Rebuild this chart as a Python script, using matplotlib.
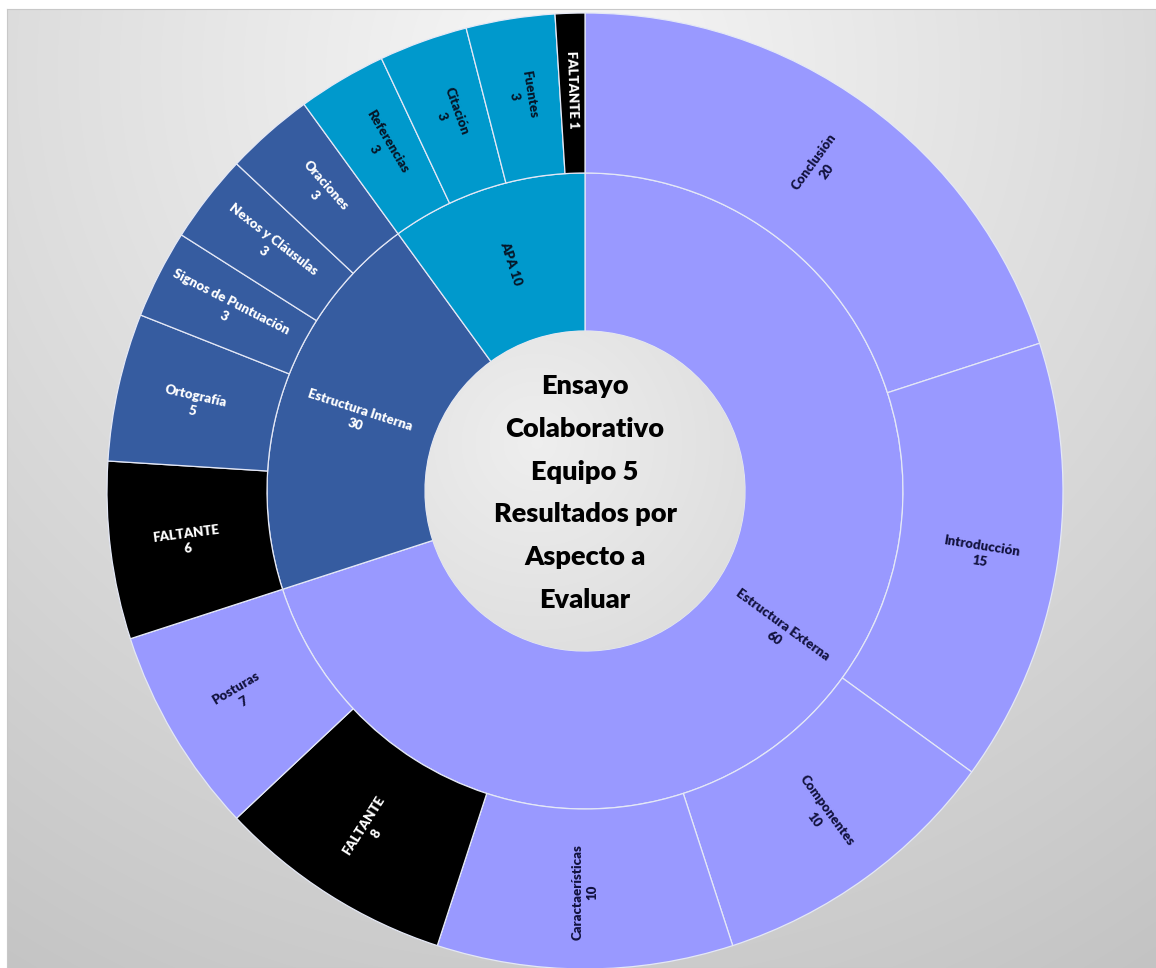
import numpy as np
import matplotlib
matplotlib.use("Agg")
from matplotlib import pyplot as plt
from matplotlib.patches import Wedge, Circle

# niveles del sunburst
grupos = ['Estructura Externa', 'Estructura Interna', 'APA']
puntaje_grupo = [60, 30, 10]
colores_grupo = ['#9999FF', '#365CA0', '#0099CC']
texto_grupo = ['#12123e', 'white', '#061628']

aspectos = ['Conclusión', 'Introducción', 'Componentes', 'Caractaerísticas',
            'FALTANTE', 'Posturas',
            'FALTANTE', 'Ortografía', 'Signos de Puntuación', 'Nexos y Cláusulas',
            'Oraciones',
            'Referencias', 'Citación', 'Fuentes', 'FALTANTE']
puntos = [20, 15, 10, 10, 8, 7,
          6, 5, 3, 3, 3,
          3, 3, 3, 1]
grupo_de = [0, 0, 0, 0, 0, 0,
            1, 1, 1, 1, 1,
            2, 2, 2, 2]

W, H = 1156, 968
cx, cy = 585, H - 491
r_ext, r_med, r_int = 478, 318, 160

fig = plt.figure(figsize=(W / 100, H / 100), dpi=100)
fig.patch.set_facecolor('white')

# fondo con degradado gris
bg = fig.add_axes([7 / W, 0, 1 - 7 / W, 959 / H])
yy, xx = np.mgrid[0:959, 7:W]
d = np.hypot(xx - 560, yy - 60)
val = np.clip(0.97 - 0.19 * d / 1000, 0, 1)
bg.imshow(np.dstack([val, val, val]), aspect='auto', extent=(0, 1, 0, 1))
bg.set_xticks([])
bg.set_yticks([])
for s in bg.spines.values():
    s.set_color('#c8c8c8')
    s.set_linewidth(0.8)

ax = fig.add_axes([0, 0, 1, 1])
ax.set_xlim(0, W)
ax.set_ylim(0, H)
ax.axis('off')
ax.patch.set_visible(False)


def rot_lectura(a):
    r = 90 - a
    while r <= -90:
        r += 180
    while r > 90:
        r -= 180
    return r


def etiqueta(a, radio, txt, color, size=9.5):
    phi = np.radians(90 - a)
    ax.text(cx + radio * np.cos(phi), cy + radio * np.sin(phi), txt,
            rotation=rot_lectura(a), rotation_mode='anchor',
            ha='center', va='center', ma='center', color=color,
            fontsize=size, fontweight='heavy', family=['Lato', 'DejaVu Sans'],
            linespacing=1.35)


borde = dict(edgecolor='#e4e8f6', linewidth=0.9)

total = sum(puntos)
tam_grupo = [sum(p for p, g in zip(puntos, grupo_de) if g == i) for i in range(len(grupos))]

# anillo interior
ini = 0.0
for i, g in enumerate(grupos):
    ang = tam_grupo[i] / total * 360
    ax.add_patch(Wedge((cx, cy), r_med, 90 - ini - ang, 90 - ini,
                       width=r_med - r_int, facecolor=colores_grupo[i], **borde))
    txt = f'{g}\n{puntaje_grupo[i]}' if g != 'APA' else f'{g} {puntaje_grupo[i]}'
    etiqueta(ini + ang / 2, (r_med + r_int) / 2, txt, texto_grupo[i])
    ini += ang

# anillo exterior
ini = 0.0
for nombre, p, g in zip(aspectos, puntos, grupo_de):
    ang = p / total * 360
    falta = nombre == 'FALTANTE'
    ax.add_patch(Wedge((cx, cy), r_ext, 90 - ini - ang, 90 - ini,
                       width=r_ext - r_med,
                       facecolor='black' if falta else colores_grupo[g], **borde))
    color = 'white' if falta else texto_grupo[g]
    txt = f'{nombre} {p}' if p == 1 else f'{nombre}\n{p}'
    etiqueta(ini + ang / 2, (r_ext + r_med) / 2 + 3, txt, color)
    ini += ang

# círculo central con degradado suave
circ = Circle((cx, cy), r_int, facecolor='none', edgecolor='none')
ax.add_patch(circ)
gy, gx = np.mgrid[-1:1:300j, -1:1:300j]
g = np.clip(0.935 - 0.045 * np.hypot(gx + 0.3, gy + 0.3), 0, 1)
im = ax.imshow(np.dstack([g, g, g]), extent=(cx - r_int, cx + r_int, cy - r_int, cy + r_int),
               origin='upper', zorder=3)
im.set_clip_path(circ)
ax.set_xlim(0, W)
ax.set_ylim(0, H)
ax.set_aspect('auto')

ax.text(cx, cy - 2, 'Ensayo\nColaborativo\nEquipo 5\nResultados por\nAspecto a\nEvaluar',
        ha='center', va='center', ma='center', fontsize=19.5, fontweight='heavy',
        family=['Lato', 'DejaVu Sans'], linespacing=1.93, color='black', zorder=4)

fig.savefig('out.png', dpi=100)
